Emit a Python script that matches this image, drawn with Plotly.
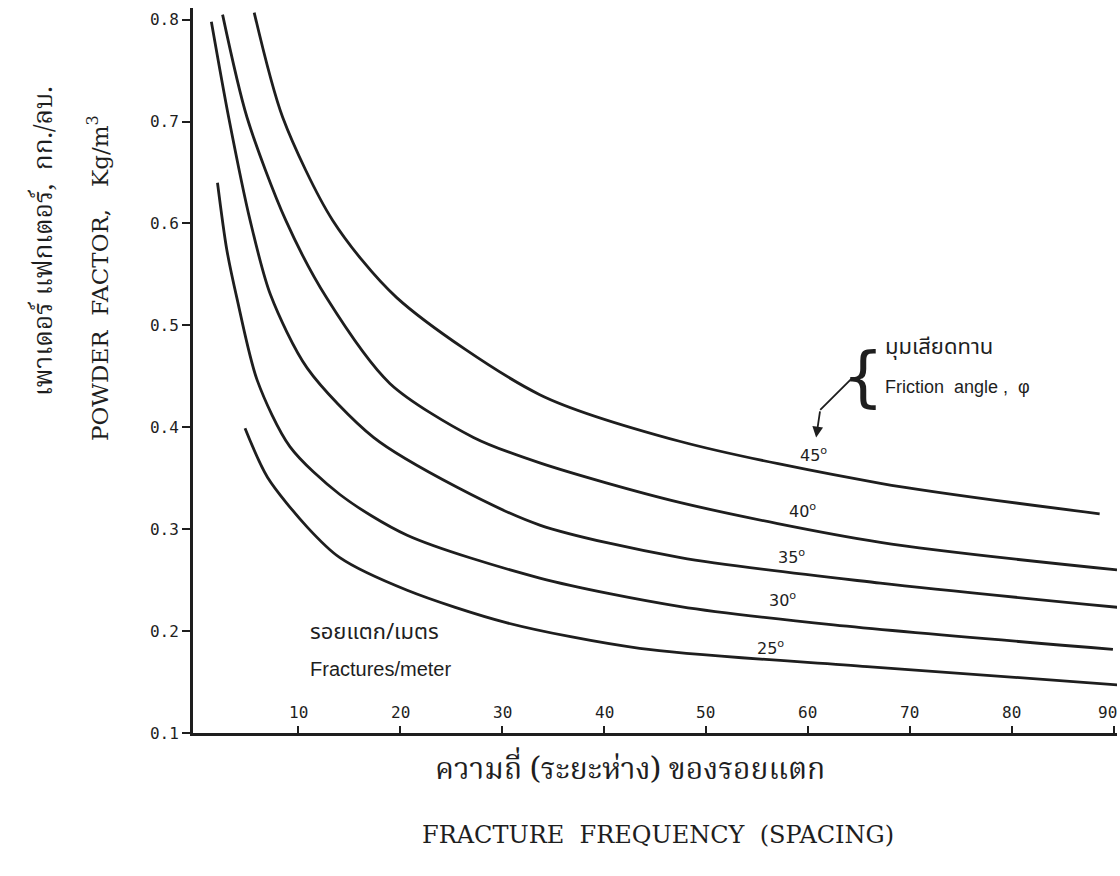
import plotly.graph_objects as go

# ---- data ----
x45 = [5.7, 8.5, 13.4, 19.7, 33.7, 47.5, 67.1, 88.6]
y45 = [0.807, 0.704, 0.603, 0.527, 0.432, 0.386, 0.345, 0.315]

x40 = [2.6, 5.0, 8.8, 12.8, 19.0, 27.2, 33.7, 47.5, 67.1, 90.3]
y40 = [0.805, 0.704, 0.603, 0.527, 0.443, 0.390, 0.365, 0.326, 0.287, 0.260]

x35 = [1.5, 3.2, 5.3, 7.3, 10.9, 17.4, 25.6, 33.7, 47.5, 67.1, 90.6]
y35 = [0.798, 0.704, 0.603, 0.530, 0.458, 0.390, 0.341, 0.304, 0.272, 0.247, 0.223]

x30 = [2.1, 3.0, 4.0, 6.0, 9.2, 14.1, 20.7, 33.7, 47.5, 62.5, 89.9]
y30 = [0.640, 0.575, 0.527, 0.446, 0.381, 0.334, 0.294, 0.252, 0.224, 0.206, 0.182]

x25 = [4.8, 7.0, 10.9, 14.1, 20.7, 30.5, 43.5, 65.8, 90.6]
y25 = [0.399, 0.351, 0.302, 0.272, 0.240, 0.208, 0.183, 0.165, 0.147]

angles = ["45", "40", "35", "30", "25"]
label_x = [60.5, 59.5, 58.4, 57.5, 56.3]
label_y = [0.373, 0.318, 0.273, 0.231, 0.184]

x_ticks = [10, 20, 30, 40, 50, 60, 70, 80, 90]
x_tick_text = ["10", "20", "30", "40", "50", "60", "70", "80", "90"]
y_ticks = [0.1, 0.2, 0.3, 0.4, 0.5, 0.6, 0.7, 0.8]
y_tick_text = ["0.1", "0.2", "0.3", "0.4", "0.5", "0.6", "0.7", "0.8"]

series = [(x45, y45), (x40, y40), (x35, y35), (x30, y30), (x25, y25)]

THAI = "Noto Sans Thai, Loma, Garuda, Noto Sans, sans-serif"
THAI_SERIF = "Noto Serif Thai, Norasi, Kinnari, Noto Sans Thai, Liberation Serif, serif"
MONO = "DejaVu Sans Mono, Liberation Mono, monospace"
INK = "#1e1e1e"

fig = go.Figure()
for (xs, ys), a in zip(series, angles):
    fig.add_trace(go.Scatter(x=xs, y=ys, mode="lines", name=a + "°",
                             line=dict(color=INK, width=2.8, shape="spline", smoothing=0.8),
                             showlegend=False, hoverinfo="skip"))

# curve labels
for a, lx, ly in zip(angles, label_x, label_y):
    fig.add_annotation(x=lx, y=ly, text=a + "<sup>o</sup>", showarrow=False,
                       font=dict(family="DejaVu Sans, sans-serif", size=16, color=INK))

# x tick labels (drawn just above the axis, as in the reference)
last = x_ticks[-1]
for tv, tt in zip(x_ticks, x_tick_text):
    fig.add_annotation(x=tv, y=0.1, yshift=20, xshift=(5 if tv == last else 0), text=tt,
                       showarrow=False, xanchor=("right" if tv == last else "center"),
                       yanchor="middle", font=dict(family=MONO, size=16, color=INK))

# friction-angle note
fig.add_annotation(x=61.2, y=0.417, ax=64.4, ay=0.449, xref="x", yref="y", axref="x", ayref="y",
                   text="", showarrow=True, arrowhead=0, arrowwidth=1.8, arrowcolor=INK)
fig.add_annotation(x=60.8, y=0.390, ax=61.2, ay=0.417, xref="x", yref="y", axref="x", ayref="y",
                   text="", showarrow=True, arrowhead=2, arrowsize=1.2, arrowwidth=1.8, arrowcolor=INK)
fig.add_annotation(x=65.4, y=0.450, text="{", showarrow=False, xanchor="center", yanchor="middle",
                   font=dict(family="DejaVu Sans, sans-serif", size=66, color=INK))
fig.add_annotation(x=67.4, y=0.478, text="มุมเสียดทาน", showarrow=False, xanchor="left", yanchor="middle",
                   font=dict(family=THAI, size=22, color=INK))
fig.add_annotation(x=67.4, y=0.440, text="Friction&nbsp;&nbsp;angle&nbsp;, &nbsp;φ", showarrow=False,
                   xanchor="left", yanchor="middle",
                   font=dict(family="Liberation Sans, Arial, sans-serif", size=18, color=INK))

# fractures per meter note
fig.add_annotation(x=11.0, y=0.199, text="รอยแตก/เมตร", showarrow=False, xanchor="left", yanchor="middle",
                   font=dict(family=THAI, size=22, color=INK))
fig.add_annotation(x=11.0, y=0.163, text="Fractures/meter", showarrow=False, xanchor="left", yanchor="middle",
                   font=dict(family="Liberation Sans, Arial, sans-serif", size=20, color=INK))

# axis titles as annotations
L, T, B = 193, 8, 733
W, H = 924, 725
def px(xp):
    return (xp - L) / W
def py(yp):
    return (B - yp) / H

fig.add_annotation(xref="paper", yref="paper", x=px(630), y=py(771), xanchor="center", yanchor="middle",
                   text="ความถี่ (ระยะห่าง) ของรอยแตก",
                   showarrow=False, font=dict(family=THAI_SERIF, size=30, color=INK))
fig.add_annotation(xref="paper", yref="paper", x=px(658), y=py(835), xanchor="center", yanchor="middle",
                   text="FRACTURE&nbsp; FREQUENCY&nbsp; (SPACING)",
                   showarrow=False, font=dict(family="DejaVu Serif, Liberation Serif, serif", size=24, color=INK))
fig.add_annotation(xref="paper", yref="paper", x=px(45), y=py(241), xanchor="center", yanchor="middle",
                   text="เพาเดอร์ แฟกเตอร์,&nbsp; กก./ลบ.",
                   showarrow=False, textangle=-90, font=dict(family=THAI_SERIF, size=26, color=INK))
fig.add_annotation(xref="paper", yref="paper", x=px(98), y=py(278), xanchor="center", yanchor="middle",
                   text="POWDER&nbsp; FACTOR,&nbsp;&nbsp; Kg/m<sup>3</sup>",
                   showarrow=False, textangle=-90,
                   font=dict(family="DejaVu Serif, Liberation Serif, serif", size=23, color=INK))

fig.update_xaxes(range=[-0.3, 90.3], showgrid=False, zeroline=False, showline=True,
                 linecolor=INK, linewidth=2.5, ticks="inside", ticklen=7, tickwidth=2,
                 tickcolor=INK, tickvals=x_ticks, showticklabels=False)
fig.update_yaxes(range=[0.0999, 0.8115], showgrid=False, zeroline=False, showline=True,
                 linecolor=INK, linewidth=3, ticks="outside", ticklen=8, tickwidth=2,
                 tickcolor=INK, tickvals=y_ticks, ticktext=y_tick_text,
                 tickfont=dict(family=MONO, size=16, color=INK))

fig.update_layout(width=1120, height=876, margin=dict(l=L, r=1120 - L - W, t=T, b=876 - B),
                  plot_bgcolor="white", paper_bgcolor="white")

fig.write_html("out.html")
